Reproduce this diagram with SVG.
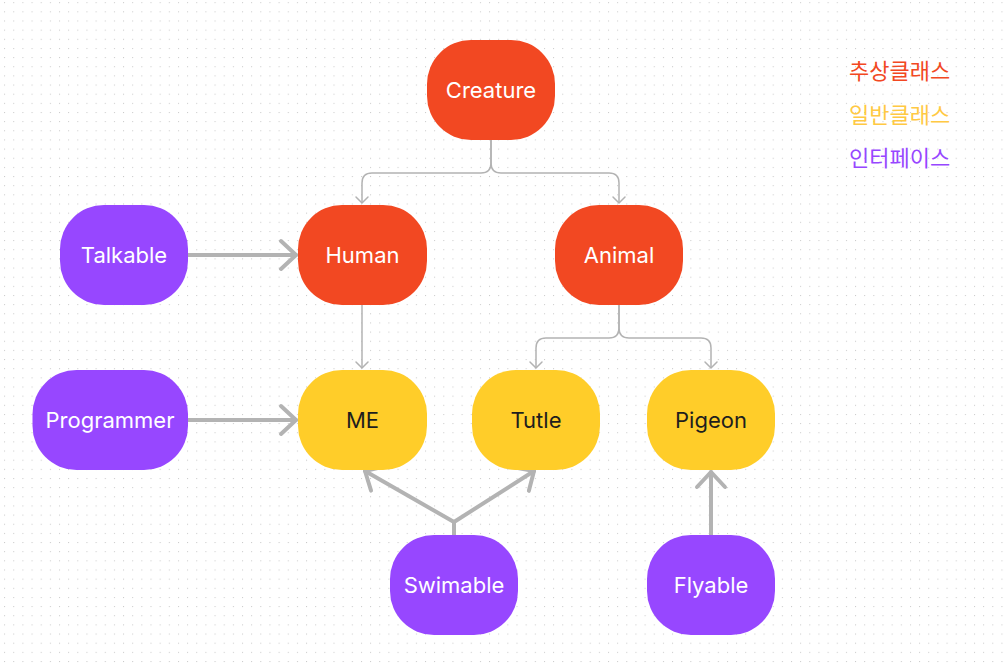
<svg xmlns="http://www.w3.org/2000/svg" width="1007" height="670" viewBox="0 0 1007 670">
  <defs>
    <pattern id="dots" x="4.1" y="2.2" width="9.15" height="9.15" patternUnits="userSpaceOnUse">
      <rect x="0" y="0" width="1" height="1" fill="#c8c8c8"/>
    </pattern>
    <marker id="thin" markerUnits="userSpaceOnUse" orient="auto" refX="0" refY="0" markerWidth="20" markerHeight="20" viewBox="-10 -10 20 20" overflow="visible">
      <path d="M-6,-6 L0,0 L-6,6" fill="none" stroke="#b3b3b3" stroke-width="1.5" stroke-linecap="round" stroke-linejoin="round"/>
    </marker>
    <marker id="thick" markerUnits="userSpaceOnUse" orient="auto" refX="0" refY="0" markerWidth="40" markerHeight="40" viewBox="-20 -20 40 40" overflow="visible">
      <path d="M-15,-14 L0,0 L-15,14" fill="none" stroke="#b3b3b3" stroke-width="4" stroke-linecap="round" stroke-linejoin="round"/>
    </marker>
  </defs>
  <style>
    .abs { fill: #F24822; }
    .cls { fill: #FFCD29; }
    .itf { fill: #9747FF; }
    .lbl { font-family: Inter, "Liberation Sans", "Noto Sans CJK KR", sans-serif; font-size: 22px; font-weight: 400; text-anchor: middle; }
    .w { fill: #ffffff; }
    .d { fill: #1e1e1e; }
    .thin { fill: none; stroke: #b3b3b3; stroke-width: 1.5; marker-end: url(#thin); }
    .thick { fill: none; stroke: #b3b3b3; stroke-width: 4; stroke-linecap: round; marker-end: url(#thick); }
    .thickn { fill: none; stroke: #b3b3b3; stroke-width: 4; }
    .legend { font-family: "Noto Sans CJK KR", sans-serif; font-size: 22px; }
  </style>
  <rect width="1007" height="670" fill="#ffffff"/>
  <rect width="1007" height="670" fill="url(#dots)"/>

  <g id="connectors">
    <path class="thin" d="M491,140 V163 Q491,173 481,173 H372 Q362,173 362,183 V203"/>
    <path class="thin" d="M491,140 V163 Q491,173 501,173 H609 Q619,173 619,183 V203"/>
    <path class="thin" d="M362,305 V368"/>
    <path class="thin" d="M619,305 V328 Q619,338 609,338 H546 Q536,338 536,348 V368"/>
    <path class="thin" d="M619,305 V328 Q619,338 629,338 H701 Q711,338 711,348 V368"/>
    <path class="thick" d="M188,255 H296"/>
    <path class="thick" d="M188,420 H296"/>
    <path class="thickn" d="M454,535 V522"/>
    <path class="thick" d="M454,522 L365,471"/>
    <path class="thick" d="M454,522 L534,471"/>
    <path class="thick" d="M711,535 V472"/>
  </g>

  <g id="node-creature">
    <rect class="abs" x="427" y="40" width="128" height="100" rx="44"/>
    <text class="lbl w" x="491" y="98">Creature</text>
  </g>
  <g id="node-human">
    <rect class="abs" x="298" y="205" width="129" height="100" rx="44"/>
    <text class="lbl w" x="362.5" y="263">Human</text>
  </g>
  <g id="node-animal">
    <rect class="abs" x="555" y="205" width="128" height="100" rx="44"/>
    <text class="lbl w" x="619" y="263">Animal</text>
  </g>
  <g id="node-talkable">
    <rect class="itf" x="60" y="205" width="128" height="100" rx="44"/>
    <text class="lbl w" x="124" y="263">Talkable</text>
  </g>
  <g id="node-programmer">
    <rect class="itf" x="32.5" y="370" width="155.5" height="100" rx="44"/>
    <text class="lbl w" x="110" y="428">Programmer</text>
  </g>
  <g id="node-me">
    <rect class="cls" x="298" y="370" width="129" height="100" rx="44"/>
    <text class="lbl d" x="362.5" y="428">ME</text>
  </g>
  <g id="node-tutle">
    <rect class="cls" x="472" y="370" width="128" height="100" rx="44"/>
    <text class="lbl d" x="536" y="428">Tutle</text>
  </g>
  <g id="node-pigeon">
    <rect class="cls" x="647" y="370" width="128" height="100" rx="44"/>
    <text class="lbl d" x="711" y="428">Pigeon</text>
  </g>
  <g id="node-swimable">
    <rect class="itf" x="390" y="535" width="128" height="100" rx="44"/>
    <text class="lbl w" x="454" y="593">Swimable</text>
  </g>
  <g id="node-flyable">
    <rect class="itf" x="647" y="535" width="128" height="100" rx="44"/>
    <text class="lbl w" x="711" y="593">Flyable</text>
  </g>

  <g id="legend">
    <text class="legend" x="849" y="79" fill="#F24822">추상클래스</text>
    <text class="legend" x="849" y="123" fill="#FFC943">일반클래스</text>
    <text class="legend" x="849" y="166" fill="#9747FF">인터페이스</text>
  </g>
</svg>
